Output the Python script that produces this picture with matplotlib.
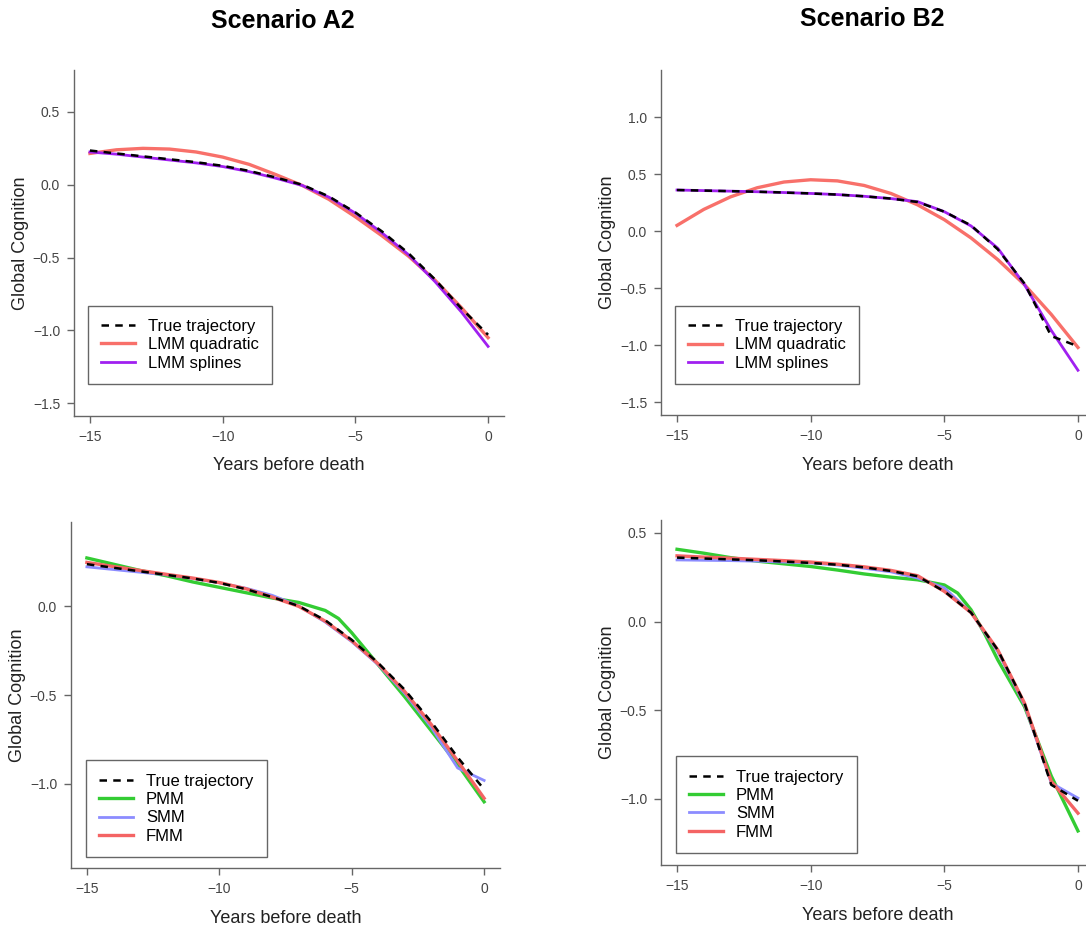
import matplotlib.pyplot as plt

plt.rcParams["font.family"] = ["Liberation Sans", "DejaVu Sans"]

years = [-15, -14, -13, -12, -11, -10, -9, -8, -7, -6, -5, -4, -3, -2, -1, 0]

# scenario A2 - top panel
true_a2 = [0.235, 0.215, 0.195, 0.175, 0.155, 0.13, 0.095, 0.05, 0.0, -0.08, -0.19, -0.32, -0.47, -0.65, -0.85, -1.03]
lmm_quad_a2 = [0.215, 0.24, 0.25, 0.245, 0.225, 0.19, 0.14, 0.07, -0.005, -0.10, -0.22, -0.35, -0.49, -0.655, -0.845, -1.05]
lmm_spl_a2 = [0.225, 0.21, 0.19, 0.17, 0.15, 0.125, 0.09, 0.045, -0.005, -0.085, -0.195, -0.33, -0.48, -0.665, -0.875, -1.11]

# scenario B2 - top panel
true_b2 = [0.36, 0.355, 0.35, 0.345, 0.338, 0.33, 0.32, 0.305, 0.285, 0.255, 0.17, 0.05, -0.16, -0.46, -0.92, -1.01]
lmm_quad_b2 = [0.05, 0.19, 0.30, 0.38, 0.43, 0.45, 0.44, 0.40, 0.33, 0.23, 0.10, -0.06, -0.25, -0.47, -0.73, -1.02]
lmm_spl_b2 = [0.36, 0.355, 0.35, 0.345, 0.338, 0.33, 0.32, 0.305, 0.285, 0.258, 0.17, 0.045, -0.15, -0.47, -0.87, -1.22]

# scenario A2 - bottom panel (PMM has a few half-year points)
pmm_years_a2 = [-15, -14, -13, -12, -11, -10, -9, -8, -7, -6, -5.5, -5, -4.5, -4, -3, -2, -1, 0]
pmm_a2 = [0.27, 0.235, 0.2, 0.17, 0.135, 0.105, 0.075, 0.045, 0.02, -0.025, -0.07, -0.15, -0.24, -0.33, -0.51, -0.70, -0.89, -1.10]
smm_a2 = [0.22, 0.205, 0.19, 0.175, 0.155, 0.13, 0.10, 0.06, 0.0, -0.09, -0.2, -0.33, -0.49, -0.68, -0.91, -0.98]
fmm_a2 = [0.245, 0.222, 0.2, 0.178, 0.157, 0.132, 0.097, 0.05, -0.002, -0.085, -0.195, -0.325, -0.48, -0.665, -0.87, -1.08]

# scenario B2 - bottom panel
pmm_years_b2 = [-15, -14, -13, -12, -11, -10, -9, -8, -7, -6, -5, -4.5, -4, -3.5, -3, -2, -1, 0]
pmm_b2 = [0.407, 0.385, 0.36, 0.34, 0.325, 0.31, 0.29, 0.268, 0.25, 0.235, 0.206, 0.16, 0.066, -0.066, -0.216, -0.48, -0.87, -1.18]
smm_b2 = [0.347, 0.345, 0.343, 0.34, 0.335, 0.33, 0.318, 0.30, 0.28, 0.245, 0.19, 0.05, -0.17, -0.47, -0.91, -0.995]
fmm_b2 = [0.37, 0.363, 0.357, 0.35, 0.343, 0.335, 0.323, 0.308, 0.288, 0.258, 0.17, 0.05, -0.16, -0.46, -0.90, -1.08]

RED = "#F8706A"
PURPLE = "#A020F0"
GREEN = "#33CC33"
BLUE = "#8C8CFF"
FMMRED = "#F46464"

W, H = 1086, 930
fig = plt.figure(figsize=(W / 100, H / 100), dpi=100)


def fmt(v, p, dec):
    s = ("%." + str(dec) + "f") % v
    if v < 0:
        s = "\u2212" + s[1:]
    return s


def make_ax(left, right, top, bottom, ylim, yticks):
    ax = fig.add_axes([left / W, 1 - bottom / H, (right - left) / W, (bottom - top) / H])
    ax.set_xlim(-15.6, 0.6)
    ax.set_ylim(*ylim)
    ax.set_xticks([-15, -10, -5, 0])
    ax.set_yticks(yticks)
    ax.xaxis.set_major_formatter(plt.FuncFormatter(lambda v, p: fmt(v, p, 0)))
    ax.yaxis.set_major_formatter(plt.FuncFormatter(lambda v, p: fmt(v, p, 1)))
    for s in ["top", "right"]:
        ax.spines[s].set_visible(False)
    for s in ["left", "bottom"]:
        ax.spines[s].set_color("#666666")
        ax.spines[s].set_linewidth(1.0)
    ax.tick_params(direction="out", length=5, width=1, color="#666666",
                   labelcolor="#444444", labelsize=10, pad=5)
    ax.set_xlabel("Years before death", fontsize=13, color="#222222")
    ax.set_ylabel("Global Cognition", fontsize=13, color="#222222")
    ax.xaxis.set_label_coords(0.5, -50 / (bottom - top))
    ax.xaxis.label.set_va("center")
    ax.yaxis.set_label_coords(-53 / (right - left), 0.5)
    ax.yaxis.label.set_va("center")
    return ax


def add_legend(ax, handles, labels, x0, y0):
    ax.legend(handles, labels, loc="lower left", bbox_to_anchor=(x0, y0), borderaxespad=0,
              fontsize=12, handlelength=2.0, handletextpad=0.8, labelspacing=0.2,
              borderpad=0.8, fancybox=False, framealpha=1, edgecolor="#666666")


# top left
ax1 = make_ax(74, 504, 70, 416, (-1.588, 0.788), [-1.5, -1.0, -0.5, 0.0, 0.5])
q, = ax1.plot(years, lmm_quad_a2, color=RED, lw=2.4, zorder=2)
sp, = ax1.plot(years, lmm_spl_a2, color=PURPLE, lw=2.0, zorder=3)
tr, = ax1.plot(years, true_a2, color="black", lw=1.8, ls=(0, (3, 2.5)), zorder=4)
add_legend(ax1, [tr, q, sp], ["True trajectory", "LMM quadratic", "LMM splines"],
           (88 - 74) / 430, (416 - 384) / 346)

# top right
ax2 = make_ax(661, 1094, 70, 415, (-1.612, 1.412), [-1.5, -1.0, -0.5, 0.0, 0.5, 1.0])
q, = ax2.plot(years, lmm_quad_b2, color=RED, lw=2.4, zorder=2)
sp, = ax2.plot(years, lmm_spl_b2, color=PURPLE, lw=2.0, zorder=3)
tr, = ax2.plot(years, true_b2, color="black", lw=1.8, ls=(0, (3, 2.5)), zorder=4)
add_legend(ax2, [tr, q, sp], ["True trajectory", "LMM quadratic", "LMM splines"],
           (675 - 661) / 433, (415 - 384) / 345)

# bottom left
ax3 = make_ax(71, 500, 522, 868, (-1.472, 0.472), [-1.0, -0.5, 0.0])
pm, = ax3.plot(pmm_years_a2, pmm_a2, color=GREEN, lw=2.4, zorder=2)
sm, = ax3.plot(years, smm_a2, color=BLUE, lw=2.0, zorder=3)
fm, = ax3.plot(years, fmm_a2, color=FMMRED, lw=2.4, zorder=3)
tr, = ax3.plot(years, true_a2, color="black", lw=1.8, ls=(0, (3, 2.5)), zorder=4)
add_legend(ax3, [tr, pm, sm, fm], ["True trajectory", "PMM", "SMM", "FMM"],
           (86 - 71) / 429, (868 - 857) / 346)

# bottom right
ax4 = make_ax(661, 1094, 520, 865, (-1.372, 0.572), [-1.0, -0.5, 0.0, 0.5])
pm, = ax4.plot(pmm_years_b2, pmm_b2, color=GREEN, lw=2.4, zorder=2)
sm, = ax4.plot(years, smm_b2, color=BLUE, lw=2.0, zorder=3)
fm, = ax4.plot(years, fmm_b2, color=FMMRED, lw=2.4, zorder=3)
tr, = ax4.plot(years, true_b2, color="black", lw=1.8, ls=(0, (3, 2.5)), zorder=4)
add_legend(ax4, [tr, pm, sm, fm], ["True trajectory", "PMM", "SMM", "FMM"],
           (676 - 661) / 433, (865 - 853) / 345)

fig.text(283 / W, 1 - 21 / H, "Scenario A2", ha="center", va="center", fontsize=18, fontweight="bold")
fig.text(872 / W, 1 - 19 / H, "Scenario B2", ha="center", va="center", fontsize=18, fontweight="bold")

fig.savefig("out.png", dpi=100, facecolor="white")
